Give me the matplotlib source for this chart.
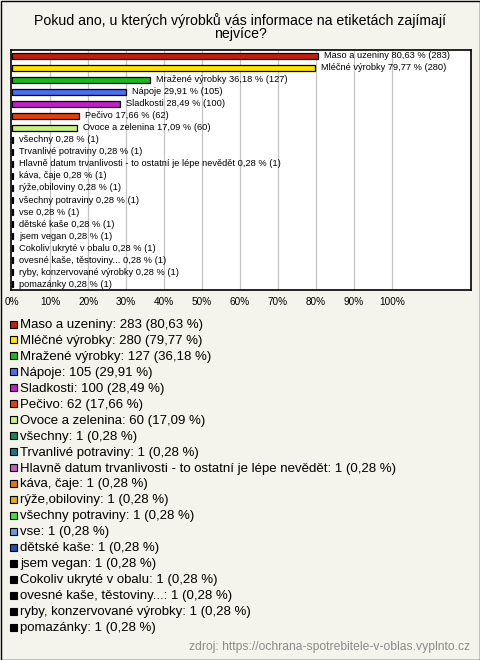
import matplotlib
matplotlib.use('Agg')
import matplotlib.pyplot as plt
from matplotlib.patches import Rectangle

plt.rcParams['font.family'] = ['Liberation Sans', 'DejaVu Sans']

kategorie = ['Maso a uzeniny', 'Mléčné výrobky', 'Mražené výrobky', 'Nápoje', 'Sladkosti',
             'Pečivo', 'Ovoce a zelenina', 'všechny', 'Trvanlivé potraviny',
             'Hlavně datum trvanlivosti - to ostatní je lépe nevědět', 'káva, čaje',
             'rýže,obiloviny', 'všechny potraviny', 'vse', 'dětské kaše', 'jsem vegan',
             'Cokoliv ukryté v obalu', 'ovesné kaše, těstoviny...', 'ryby, konzervované výrobky',
             'pomazánky']
pocty = [283, 280, 127, 105, 100, 62, 60, 1, 1, 1, 1, 1, 1, 1, 1, 1, 1, 1, 1, 1]
procenta = [80.63, 79.77, 36.18, 29.91, 28.49, 17.66, 17.09] + [0.28] * 13
barvy = ['#c01e0e', '#ffe400', '#1cb81c', '#4a6ef0', '#c020c8', '#e0400e', '#c8f080',
         '#148a5a', '#1a7888', '#c060c0', '#e07a10', '#e0b010', '#40e040', '#6a9ae0',
         '#2050b0', '#000000', '#000000', '#000000', '#000000', '#000000']
ticks = [0, 10, 20, 30, 40, 50, 60, 70, 80, 90, 100]

bg = '#f4f3ec'
fig = plt.figure(figsize=(4.8, 6.6), dpi=100, facecolor=bg)

# pozadí, rámeček, legenda v pixelech
ov = fig.add_axes([0, 0, 1, 1], zorder=0)
ov.set_xlim(0, 480)
ov.set_ylim(660, 0)
ov.axis('off')
ov.add_patch(Rectangle((0.5, 0.5), 479, 659, fill=False, ec='black', lw=1))
ov.text(240, 27, 'Pokud ano, u kterých výrobků vás informace na etiketách zajímají\nnejvíce?',
        ha='center', va='center', fontsize=10.2, linespacing=0.95)

ax = fig.add_axes([11 / 480, (660 - 290) / 660, 460 / 480, 240 / 660], zorder=1)
ax.set_facecolor('white')
y = list(range(len(kategorie)))
ax.barh(y, procenta, height=0.55, color=barvy, edgecolor='black', linewidth=0.9, zorder=3)
for i in range(len(kategorie)):
    pct = ('%.2f' % procenta[i]).replace('.', ',')
    ax.text(procenta[i] + 1.6, i, '%s %s %% (%d)' % (kategorie[i], pct, pocty[i]),
            va='center', ha='left', fontsize=6.7, zorder=4)
ax.set_xlim(-0.3, 120.8)
ax.set_ylim(19.5, -0.5)
for t in ticks[1:]:
    ax.axvline(t, color='#c4c4c4', lw=0.9, zorder=1)
ax.set_yticks([])
ax.set_xticks(ticks)
ax.set_xticklabels(['%d%%' % t for t in ticks], fontsize=7.2)
ax.tick_params(axis='x', length=0, pad=5)
for s in ax.spines.values():
    s.set_linewidth(1.2)

# legenda
for i in range(len(kategorie)):
    yy = 325 + i * 15.95
    ov.add_patch(Rectangle((10, yy - 4.5), 7, 7, fc=barvy[i], ec='black', lw=0.8))
    pct = ('%.2f' % procenta[i]).replace('.', ',')
    ov.text(20, yy, '%s: %d (%s %%)' % (kategorie[i], pocty[i], pct),
            va='center', ha='left', fontsize=9.5)

ov.text(470, 647, 'zdroj: https://ochrana-spotrebitele-v-oblas.vyplnto.cz',
        ha='right', va='center', fontsize=8.7, color='#8c8c8c')

plt.savefig('out.png', dpi=100, facecolor=bg)
